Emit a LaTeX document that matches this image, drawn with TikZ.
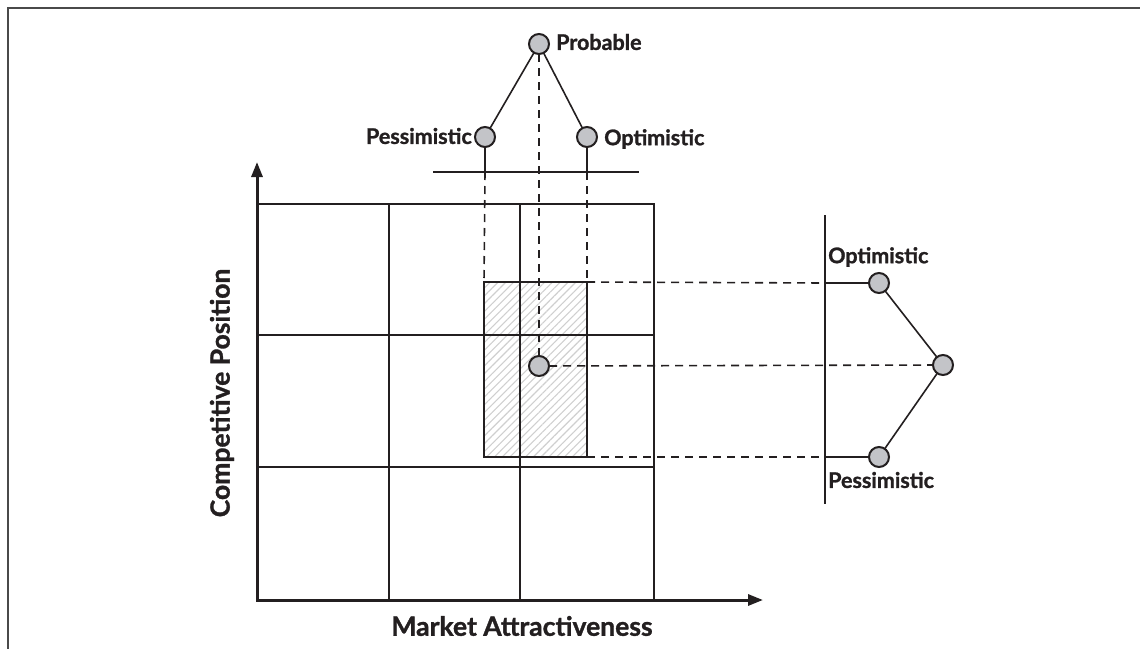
\documentclass[tikz,border=0pt]{standalone}
\usepackage{fontspec}
\setmainfont{Lato}[BoldFeatures={FakeBold=1.2}]
\usetikzlibrary{arrows.meta,patterns.meta}
\definecolor{ink}{HTML}{231F20}
\definecolor{dotfill}{HTML}{C3C4C8}
\definecolor{hatch}{HTML}{CFCFCF}
\definecolor{framec}{HTML}{4A4A4A}
\begin{document}
\begin{tikzpicture}[x=1pt,y=-1pt,
  dot/.style={circle,draw=ink,fill=dotfill,line width=2pt,minimum size=20pt,inner sep=0pt,outer sep=0pt},
  grid/.style={draw=ink,line width=1.6pt},
  solidline/.style={draw=ink,line width=1.6pt},
  dashline/.style={draw=ink,line width=1.6pt,dash pattern=on 8pt off 6pt},
  axis/.style={draw=ink,line width=3pt,{Triangle[length=15pt,width=11pt]}-{Triangle[length=15pt,width=11pt]}},
  lbl/.style={font=\fontsize{21.5}{24}\selectfont\bfseries,text=ink,inner sep=0pt},
  axlbl/.style={font=\fontsize{26.5}{30}\selectfont\bfseries,text=ink,inner sep=0pt},
  hatchbox/.style={draw=ink,line width=1.6pt,pattern={Lines[angle=45,distance=5.5pt,line width=1.1pt]},pattern color=hatch}
]
\useasboundingbox (0,0) rectangle (1140,648);
% outer frame (open to the right and bottom)
\draw[framec,line width=2.6pt] (8,660) -- (8,8) -- (1150,8);

% shaded range of the estimate
\node[hatchbox,minimum width=103pt,minimum height=175pt,inner sep=0pt,outer sep=0pt] (range) at (535.5,369.5) {};

% 3x3 portfolio grid
\draw[grid] (257,204) -- (654,204) -- (654,600);
\draw[grid] (389,204) -- (389,600);
\draw[grid] (520,204) -- (520,600);
\draw[grid] (257,335) -- (654,335);
\draw[grid] (257,467) -- (654,467);

% axes
\coordinate (ytip) at (257,162);
\coordinate (origin) at (257,600);
\coordinate (xtip) at (763,600);
\draw[axis] (ytip) -- (origin) -- (xtip);
\node[axlbl] (xlab) at (522,626) {Market Attractiveness};
\node[axlbl,rotate=90] (ylab) at (222,393) {Competitive Position};

% market attractiveness scenarios (top)
\node[dot] (prob) at (539,44) {};
\node[dot] (pessT) at (485,137) {};
\node[dot] (optT) at (587,137) {};
\node[lbl,anchor=west] (probL) at (556,42) {Probable};
\node[lbl,anchor=east] (pessTL) at (472,136) {Pessimistic};
\node[lbl,anchor=west] (optTL) at (604,139) {Optimistic};
\coordinate (baseL) at (433,172);
\coordinate (baseR) at (639,172);
\coordinate (pessTb) at (485,172);
\coordinate (optTb) at (587,172);
\draw[solidline] (baseL) -- (baseR);
\draw[solidline] (prob) -- (pessT);
\draw[solidline] (prob) -- (optT);
\draw[solidline] (pessT) -- (pessTb);
\draw[solidline] (optT) -- (optTb);
\draw[dashline] (pessTb) -- (range.north west);
\draw[dashline] (optTb) -- (range.north east);

% central estimate
\node[dot] (center) at (539,366) {};
\draw[dashline] (prob) -- (center);

% competitive position scenarios (right)
\node[dot] (optR) at (879,283) {};
\node[dot] (midR) at (943,365) {};
\node[dot] (pessR) at (879,457) {};
\node[lbl,anchor=west] (optRL) at (828,257) {Optimistic};
\node[lbl,anchor=west] (pessRL) at (828,480) {Pessimistic};
\coordinate (baseT) at (825,215);
\coordinate (baseB) at (825,504);
\coordinate (optRb) at (825,283);
\coordinate (pessRb) at (825,457);
\draw[solidline] (baseT) -- (baseB);
\draw[solidline] (optR) -- (midR);
\draw[solidline] (midR) -- (pessR);
\draw[solidline] (optRb) -- (optR);
\draw[solidline] (pessRb) -- (pessR);
\draw[dashline] (range.north east) -- (optRb);
\draw[dashline] (range.south east) -- (pessRb);
\draw[dashline] (center) -- (midR);
\end{tikzpicture}
\end{document}
